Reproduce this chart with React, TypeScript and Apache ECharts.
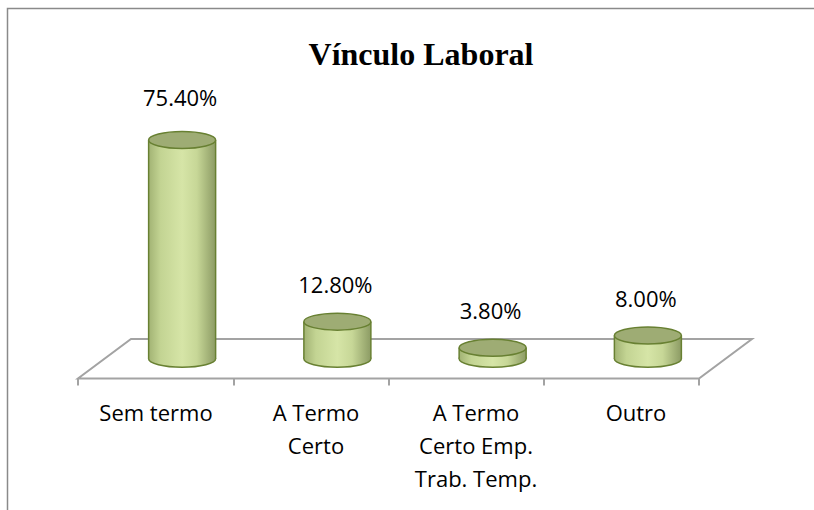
import React, { useEffect, useRef } from "react";
import * as echarts from "echarts";

const titleText = "Vínculo Laboral";
const categories = ["Sem termo", "A Termo\nCerto", "A Termo\nCerto Emp.\nTrab. Temp.", "Outro"];
const values = [75.4, 12.8, 3.8, 8.0];

const DEPTH_DX = 53;
const DEPTH_DY = 39.5;
const RX = 33.5;
const RY = 8.5;
const OUTLINE = "#688032";
const FLOOR = "#a3a3a3";

export default function App() {
  const ref = useRef<HTMLDivElement>(null);
  useEffect(() => {
    if (!ref.current) return;
    const chart = echarts.init(ref.current, null, { renderer: "svg" });
    const bodyGrad = () =>
      new echarts.graphic.LinearGradient(0, 0, 1, 0, [
        { offset: 0, color: "#a2b374" },
        { offset: 0.18, color: "#c3d493" },
        { offset: 0.5, color: "#d6e5a7" },
        { offset: 0.72, color: "#c7d797" },
        { offset: 1, color: "#8c9b64" },
      ]);
    const option: any = {
      animation: false,
      backgroundColor: "#ffffff",
      title: {
        text: titleText,
        left: 416,
        top: 33,
        textAlign: "center",
        textStyle: {
          fontFamily: "Liberation Serif",
          fontWeight: "bold",
          fontSize: 32,
          color: "#000",
        },
      },
      graphic: [
        {
          type: "rect",
          shape: { x: 7.5, y: 8.5, width: 900, height: 600 },
          style: { fill: "none", stroke: "#8a8a8a", lineWidth: 1.5 },
          silent: true,
        },
      ],
      grid: [
        { left: 78, right: 115, top: 88.5, bottom: 131.5 },
        { left: 76, right: 98, top: 88.5, bottom: 131.5 },
      ],
      xAxis: [
        {
          type: "category",
          gridIndex: 0,
          data: categories,
          boundaryGap: true,
          axisLine: { show: false },
          axisTick: { show: true, length: 7, lineStyle: { color: FLOOR, width: 2 } },
          axisLabel: { show: false },
          splitLine: { show: false },
        },
        {
          type: "category",
          gridIndex: 1,
          data: categories,
          boundaryGap: true,
          axisLine: { show: false },
          axisTick: { show: false },
          axisLabel: {
            interval: 0,
            margin: 17,
            fontFamily: "Open Sans",
            fontSize: 22,
            lineHeight: 33,
            color: "#000",
          },
          splitLine: { show: false },
        },
      ],
      yAxis: [
        { type: "value", gridIndex: 0, min: 0, max: 100, show: false },
        { type: "value", gridIndex: 1, min: 0, max: 100, show: false },
      ],
      series: [
        {
          type: "custom",
          xAxisIndex: 0,
          yAxisIndex: 0,
          z: 1,
          data: [[0, 0]],
          renderItem: (params: any, api: any) => {
            const band = api.size([1, 0])[0];
            const p0 = api.coord([0, 0]);
            const p1 = api.coord([categories.length - 1, 0]);
            const left = p0[0] - band / 2;
            const right = p1[0] + band / 2;
            const y = p0[1];
            return {
              type: "polygon",
              shape: {
                points: [
                  [left, y],
                  [right, y],
                  [right + DEPTH_DX, y - DEPTH_DY],
                  [left + DEPTH_DX, y - DEPTH_DY],
                ],
              },
              style: { fill: "none", stroke: FLOOR, lineWidth: 2 },
            };
          },
        },
        {
          type: "custom",
          xAxisIndex: 0,
          yAxisIndex: 0,
          z: 2,
          data: values.map((v, i) => [i, v]),
          renderItem: (params: any, api: any) => {
            const i = api.value(0);
            const v = api.value(1);
            const base = api.coord([i, 0]);
            const top = api.coord([i, v]);
            const cx = base[0] + DEPTH_DX / 2;
            const by = base[1] - DEPTH_DY / 2;
            const ty = top[1] - DEPTH_DY / 2;
            const lift = 37 + 0.03 * (by - ty);
            return {
              type: "group",
              children: [
                {
                  type: "ellipse",
                  shape: { cx, cy: by, rx: RX, ry: RY },
                  style: { fill: bodyGrad(), stroke: OUTLINE, lineWidth: 1.5 },
                },
                {
                  type: "rect",
                  shape: { x: cx - RX, y: ty, width: RX * 2, height: by - ty },
                  style: { fill: bodyGrad(), stroke: "none" },
                },
                {
                  type: "line",
                  shape: { x1: cx - RX, y1: ty, x2: cx - RX, y2: by },
                  style: { stroke: OUTLINE, lineWidth: 1.5 },
                },
                {
                  type: "line",
                  shape: { x1: cx + RX, y1: ty, x2: cx + RX, y2: by },
                  style: { stroke: OUTLINE, lineWidth: 1.5 },
                },
                {
                  type: "ellipse",
                  shape: { cx, cy: ty, rx: RX, ry: RY },
                  style: { fill: "#9eac74", stroke: OUTLINE, lineWidth: 1.5 },
                },
                {
                  type: "text",
                  style: {
                    text: v.toFixed(2) + "%",
                    x: cx - 2,
                    y: ty - lift,
                    textAlign: "center",
                    textVerticalAlign: "middle",
                    fill: "#000",
                    font: '22px "Open Sans"',
                  },
                },
              ],
            };
          },
        },
      ],
    };
    chart.setOption(option);
    return () => chart.dispose();
  }, []);
  return (
    <div
      ref={ref}
      style={{ position: "fixed", left: 0, top: 0, width: 814, height: 510 }}
    />
  );
}
